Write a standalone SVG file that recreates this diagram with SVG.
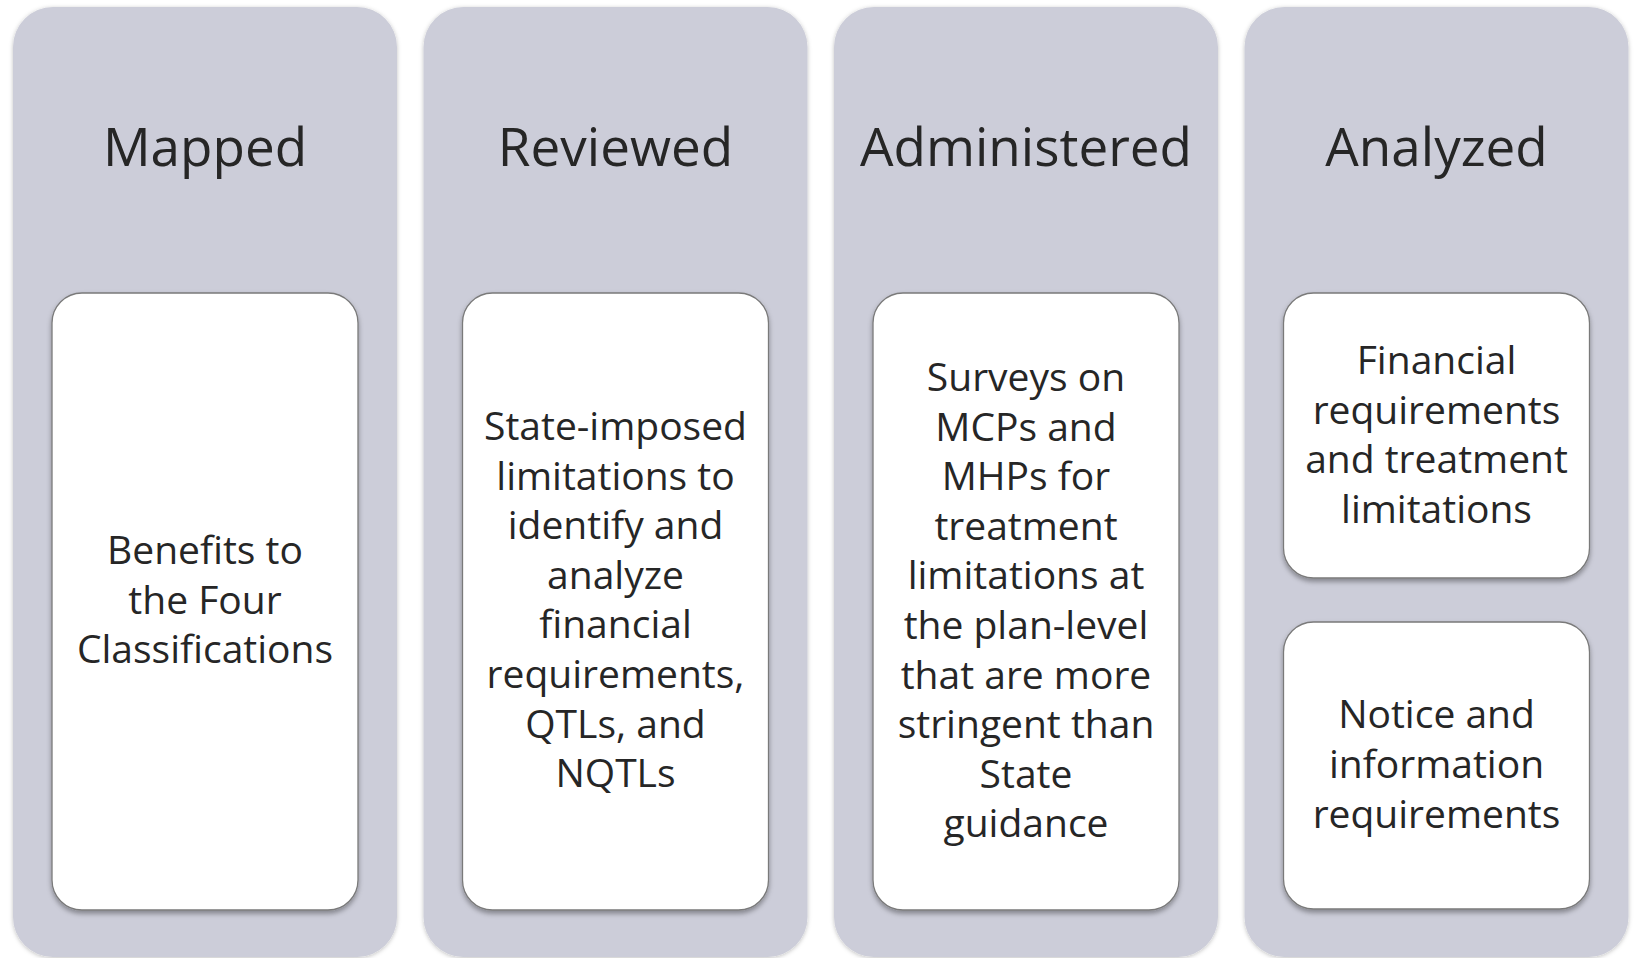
<svg xmlns="http://www.w3.org/2000/svg" width="1639" height="958" viewBox="0 0 1639 958">
  <defs>
    <filter id="colShadow" x="-5%" y="-5%" width="110%" height="110%">
      <feDropShadow dx="0" dy="1" stdDeviation="2" flood-color="#000" flood-opacity="0.25"/>
    </filter>
    <filter id="boxShadow" x="-5%" y="-5%" width="110%" height="115%">
      <feDropShadow dx="0" dy="3" stdDeviation="2.5" flood-color="#000" flood-opacity="0.35"/>
    </filter>
  </defs>
  <style>
    .col { fill: #cccdd9; filter: url(#colShadow); }
    .box { fill: #ffffff; stroke: #7a7a7a; stroke-width: 1.3; filter: url(#boxShadow); }
    .title { font-family: "Open Sans", "DejaVu Sans", sans-serif; font-size: 53px; fill: #262626; text-anchor: middle; }
    .body { font-family: "Open Sans", "DejaVu Sans", sans-serif; font-size: 39px; fill: #262626; text-anchor: middle; }
  </style>
  <rect width="1639" height="958" fill="#ffffff"/>

  <g id="connectors"></g>

  <!-- Column 1 -->
  <g id="mapped">
    <rect class="col" x="13" y="7" width="384" height="950" rx="40"/>
    <text class="title" x="205" y="166">Mapped</text>
  </g>
  <g id="mapped-item">
    <rect class="box" x="52" y="293" width="306" height="617" rx="30"/>
    <text class="body" x="205" y="564">Benefits to</text>
    <text class="body" x="205" y="613.5">the Four</text>
    <text class="body" x="205" y="663">Classifications</text>
  </g>

  <!-- Column 2 -->
  <g id="reviewed">
    <rect class="col" x="423.5" y="7" width="384" height="950" rx="40"/>
    <text class="title" x="615.5" y="166">Reviewed</text>
  </g>
  <g id="reviewed-item">
    <rect class="box" x="462.5" y="293" width="306" height="617" rx="30"/>
    <text class="body" x="615.5" y="440">State-imposed</text>
    <text class="body" x="615.5" y="489.6">limitations to</text>
    <text class="body" x="615.5" y="539.2">identify and</text>
    <text class="body" x="615.5" y="588.8">analyze</text>
    <text class="body" x="615.5" y="638.4">financial</text>
    <text class="body" x="615.5" y="688">requirements,</text>
    <text class="body" x="615.5" y="737.6">QTLs, and</text>
    <text class="body" x="615.5" y="787.2">NQTLs</text>
  </g>

  <!-- Column 3 -->
  <g id="administered">
    <rect class="col" x="834" y="7" width="384" height="950" rx="40"/>
    <text class="title" x="1026" y="166">Administered</text>
  </g>
  <g id="administered-item">
    <rect class="box" x="873" y="293" width="306" height="617" rx="30"/>
    <text class="body" x="1026" y="391">Surveys on</text>
    <text class="body" x="1026" y="440.6">MCPs and</text>
    <text class="body" x="1026" y="490.2">MHPs for</text>
    <text class="body" x="1026" y="539.8">treatment</text>
    <text class="body" x="1026" y="589.4">limitations at</text>
    <text class="body" x="1026" y="639">the plan-level</text>
    <text class="body" x="1026" y="688.6">that are more</text>
    <text class="body" x="1026" y="738.2">stringent than</text>
    <text class="body" x="1026" y="787.8">State</text>
    <text class="body" x="1026" y="837.4">guidance</text>
  </g>

  <!-- Column 4 -->
  <g id="analyzed">
    <rect class="col" x="1244.5" y="7" width="384" height="950" rx="40"/>
    <text class="title" x="1436.5" y="166">Analyzed</text>
  </g>
  <g id="analyzed-item-1">
    <rect class="box" x="1283.5" y="293" width="306" height="285" rx="30"/>
    <text class="body" x="1436.5" y="374">Financial</text>
    <text class="body" x="1436.5" y="423.5">requirements</text>
    <text class="body" x="1436.5" y="473">and treatment</text>
    <text class="body" x="1436.5" y="522.5">limitations</text>
  </g>
  <g id="analyzed-item-2">
    <rect class="box" x="1283.5" y="622" width="306" height="287" rx="30"/>
    <text class="body" x="1436.5" y="728">Notice and</text>
    <text class="body" x="1436.5" y="778">information</text>
    <text class="body" x="1436.5" y="828">requirements</text>
  </g>
</svg>
